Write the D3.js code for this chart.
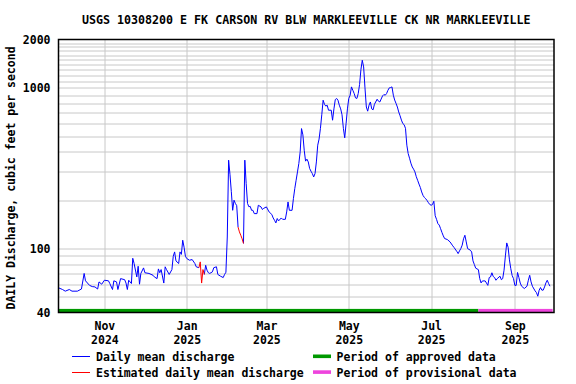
<!DOCTYPE html>
<html>
<head>
<meta charset="utf-8">
<script src="https://cdn.jsdelivr.net/npm/d3@7"></script>
<style>
  body { margin: 0; background: #fff; }
  svg text { font-family: "DejaVu Sans Mono", monospace; font-weight: bold; font-size: 11.5px; fill: #000; }
</style>
</head>
<body>
<svg id="chart" width="576" height="384"></svg>
<script>
// daily mean discharge, day 0 = 2024-10-01
const days = [-3,0,2,5,7,11,14,16,17,20,22,24,26,27,29,31,34,35,37,38,40,41,43,46,47,48,49,51,52,53,55,56,57,58,60,61,64,67,68,70,71,72,73,75,76,77,79,81,82,83,84,86,87,88,89,90,91,92,94,96,98,99,101,102,103,104,105,106,107,108,109,111,112,114,115,117,119,120,121,122,123,124,125,126,127,128,129,130,131,132,133,134,135,136,137,138,139,140,141,142,144,145,147,148,149,151,153,155,156,157,158,159,160,162,163,165,166,167,168,170,171,172,173,174,175,176,177,178,179,180,181,182,183,184,185,186,187,188,189,190,191,192,193,194,195,196,197,199,200,201,202,203,204,205,206,207,208,209,210,211,212,213,214,215,216,217,218,219,220,221,222,223,224,225,226,227,228,229,230,231,233,234,235,237,238,239,240,241,242,243,244,245,246,247,248,249,250,251,252,253,254,255,256,257,258,259,260,261,262,263,264,265,266,267,268,269,270,271,272,273,274,275,276,277,278,279,280,281,282,283,285,287,289,290,292,293,294,295,296,297,298,299,300,302,303,304,305,306,308,309,310,311,313,314,315,316,317,318,319,320,321,322,324,325,326,327,328,329,330,331,332,333,334,335,336,337,338,339,340,342,344,345,346,347,348,350,351,352,353,354,355,356,357,358,359,360,361];
const discharge = [57,55.6,54.3,55.6,54.3,54.3,56,70,63,59,58,57.7,56,62,60,63.5,63,60.6,55.6,63,62,55.6,65,64,61,55.6,63.5,60.6,87,80.7,66.6,77.6,60,70,75.8,70.7,70,68.2,66.6,65,74.7,70.7,74,61,77,74,69,74,89.6,95.3,83.8,80.7,95.3,92,112.7,102,89.6,86.7,84.6,85.4,80.7,77,76,82.6,61,74,69,78.7,73.3,70.7,70,71.6,76,77,69,67.3,66,69,71.2,118,355,290,226,173,200,191,185,136,127,121,115,107.6,355,254,191,182,183,173,173,165,165,186,181.6,175,178,181.6,169,163,155,150,144.4,153.8,148.6,155,152,152,169,195,173,173,205,236,266,300,338,400,558,510,409,350,360,346,315,303,293,279,293,346,440,480,560,680,838,790,770,780,726,726,629,740,845,859,838,780,740,680,560,489,600,740,859,900,1014,966,922,866,859,922,1050,1300,1486,1350,1000,760,716,780,817,740,730,790,850,826,817,891,909,900,922,966,1000,1005,1014,900,840,800,760,708,670,630,600,590,560,440,390,365,340,322,312,300,280,266,252,240,225,214,208,204,199,193,188,186,188,197,160,152,143,140,133,126,120,115.4,113.8,110,104,101.5,96,93,96.7,100,105,115,121,110,100,97.7,95.3,83.8,79.6,75.5,73.9,65,61.1,62.9,62.9,61,59,66,66.6,70.7,67,66,63.5,65,67.3,64,65,73.3,90,108.4,102,85,75,68,65,59,59,71,66,61,58.3,56.4,58.3,63.5,68.2,62,58.3,54.5,53.2,50.5,55,57.2,55.1,55.1,57.7,61.1,63.5,60.6,58.3];
const estimatedDays = [102,103,104,131,132,133];

// approval status periods
const periodStart = ["2024-09-28", "2025-08-05"];
const periodEnd = ["2025-08-05", "2025-09-29"];
const periodColor = ["#009900", "#ee44dd"];

const yTicks = [40, 100, 1000, 2000];
const monthLabels = ["Nov", "Jan", "Mar", "May", "Jul", "Sep"];
const yearLabels = ["2024", "2025", "2025", "2025", "2025", "2025"];

const title = "USGS 10308200 E FK CARSON RV BLW MARKLEEVILLE CK NR MARKLEEVILLE";
const yLabel = "DAILY Discharge, cubic feet per second";

const width = 576, height = 384;
const margin = { top: 39.5, right: 22, bottom: 71.5, left: 58.5 };
const innerW = width - margin.left - margin.right;
const innerH = height - margin.top - margin.bottom;

const wyStart = Date.UTC(2024, 9, 1);
const toDate = d => d3.utcDay.offset(new Date(wyStart), d);
const series = days.map((d, i) => ({ date: toDate(d), value: discharge[i], est: estimatedDays.includes(d) }));

const svg = d3.select("#chart");
const g = svg.append("g").attr("transform", `translate(${margin.left},${margin.top})`);

const x = d3.scaleUtc()
    .domain([new Date("2024-09-28T00:00Z"), new Date("2025-09-30T00:00Z")])
    .range([0, innerW]);
const y = d3.scaleLog().domain([40, 2000]).range([innerH, 0]);

// grid
const gridVals = d3.range(50, 100, 10).concat(d3.range(100, 1000, 100), d3.range(1000, 2000, 100));
g.append("g").selectAll("line").data(gridVals).join("line")
    .attr("x1", 0).attr("x2", innerW)
    .attr("y1", d => Math.round(y(d)) + 0.5).attr("y2", d => Math.round(y(d)) + 0.5)
    .attr("stroke", "#c8c8c8").attr("stroke-width", 1);

const monthNames = ["Jan","Feb","Mar","Apr","May","Jun","Jul","Aug","Sep","Oct","Nov","Dec"];
const monthTicks = monthLabels.map((m, i) => new Date(Date.UTC(+yearLabels[i], monthNames.indexOf(m), 1)));
g.append("g").selectAll("line").data(monthTicks).join("line")
    .attr("x1", d => Math.round(x(d)) + 0.5).attr("x2", d => Math.round(x(d)) + 0.5)
    .attr("y1", 0).attr("y2", innerH)
    .attr("stroke", "#c8c8c8").attr("stroke-width", 1);

// approval bars
const parseDay = s => new Date(s + "T00:00Z");
g.append("g").selectAll("rect").data(periodStart).join("rect")
    .attr("x", d => x(parseDay(d)))
    .attr("width", (d, i) => x(parseDay(periodEnd[i])) - x(parseDay(d)))
    .attr("y", innerH - 3.6).attr("height", 3.6)
    .attr("fill", (d, i) => periodColor[i]);

// discharge line: red wherever an estimated day is involved
const line = d3.line().x(d => x(d.date)).y(d => y(d.value));
const segs = d3.pairs(series).map(p => ({ pts: p, est: p[0].est || p[1].est }));
g.append("path")
    .attr("d", segs.filter(s => !s.est).map(s => line(s.pts)).join(""))
    .attr("fill", "none").attr("stroke", "#0000ff").attr("stroke-width", 1);
g.append("path")
    .attr("d", segs.filter(s => s.est).map(s => line(s.pts)).join(""))
    .attr("fill", "none").attr("stroke", "#ff0000").attr("stroke-width", 1);

// frame
g.append("rect").attr("x", 0).attr("y", 0).attr("width", innerW).attr("height", innerH)
    .attr("fill", "none").attr("stroke", "#000").attr("stroke-width", 1.5);

// axes
const yAxis = g.append("g").call(d3.axisLeft(y).tickValues(yTicks).tickFormat(d3.format("d")).tickSize(0).tickPadding(8));
yAxis.select(".domain").remove();
yAxis.attr("font-family", null).attr("font-size", null);

const xAxis = g.append("g").attr("transform", `translate(0,${innerH})`)
    .call(d3.axisBottom(x).tickValues(monthTicks).tickSize(0).tickFormat(""));
xAxis.select(".domain").remove();
xAxis.selectAll(".tick").append("text")
    .attr("text-anchor", "middle")
    .each(function(d, i) {
        const t = d3.select(this);
        t.append("tspan").attr("x", 0).attr("y", 17.5).text(monthLabels[i]);
        t.append("tspan").attr("x", 0).attr("y", 31).text(yearLabels[i]);
    });
xAxis.attr("font-family", null).attr("font-size", null);

// title and y label
svg.append("text").attr("x", margin.left + innerW / 2).attr("y", 24)
    .attr("text-anchor", "middle").style("font-size", "11.65px").text(title);
svg.append("text").attr("transform", `translate(15,178) rotate(-90)`)
    .attr("text-anchor", "middle").text(yLabel);

// legend
const legend = svg.append("g");
legend.append("line").attr("x1", 72).attr("x2", 90).attr("y1", 356.5).attr("y2", 356.5).attr("stroke", "#0000ff");
legend.append("text").attr("x", 96).attr("y", 360.5).text("Daily mean discharge");
legend.append("line").attr("x1", 72).attr("x2", 90).attr("y1", 372.5).attr("y2", 372.5).attr("stroke", "#ff0000");
legend.append("text").attr("x", 96).attr("y", 376.5).text("Estimated daily mean discharge");
legend.append("rect").attr("x", 313).attr("y", 354.5).attr("width", 18).attr("height", 3.6).attr("fill", periodColor[0]);
legend.append("text").attr("x", 336.5).attr("y", 360.5).text("Period of approved data");
legend.append("rect").attr("x", 313).attr("y", 370.3).attr("width", 18).attr("height", 3.6).attr("fill", periodColor[1]);
legend.append("text").attr("x", 336.5).attr("y", 376.5).text("Period of provisional data");
</script>
</body>
</html>
